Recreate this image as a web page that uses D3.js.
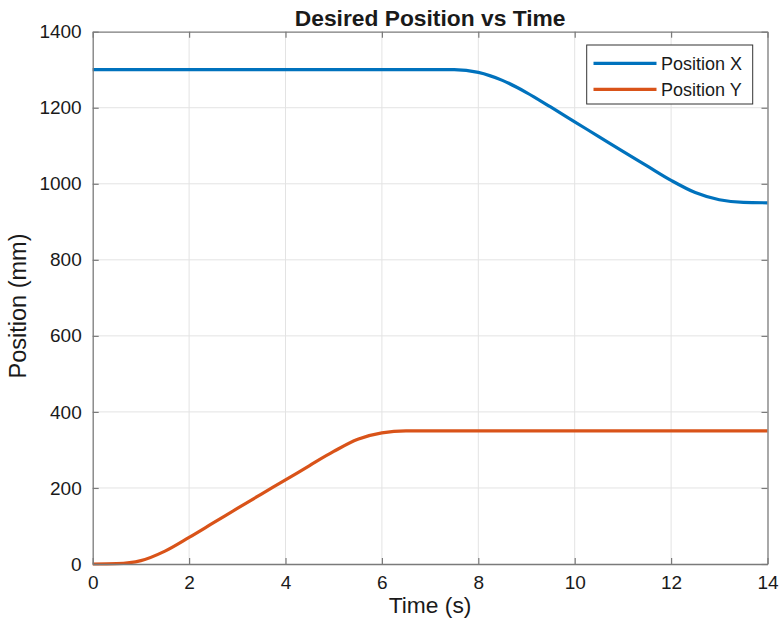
<!DOCTYPE html>
<html><head><meta charset="utf-8">
<script src="https://cdn.jsdelivr.net/npm/d3@7"></script>
<style>body{margin:0;background:#fff;} svg{display:block;font-family:"Liberation Sans",Arial,sans-serif;}</style>
</head><body>
<script>
const time      = [0,0.5,1,1.5,2,2.5,3,3.5,4,4.5,5,5.5,6,6.5,7,7.5,8,8.5,9,9.5,10,10.5,11,11.5,12,12.5,13,13.5,14];
const positionX = [1300,1300,1300,1300,1300,1300,1300,1300,1300,1300,1300,1300,1300,1300,1300,1300,1293,1272,1240,1202,1163,1124,1085,1047,1009,977,958,951,950];
const positionY = [0,1,9,34,70,108,146,184,221,259,296,328,345,350,350,350,350,350,350,350,350,350,350,350,350,350,350,350,350];
const seriesNames = ["Position X","Position Y"];
const xTicks = [0,2,4,6,8,10,12,14];
const yTicks = [0,200,400,600,800,1000,1200,1400];

const W=780,H=631, L=92.7, R=767.5, T=31.7, B=564;
const svg=d3.select("body").append("svg").attr("width",W).attr("height",H);
const x=d3.scaleLinear().domain([0,14]).range([L,R]);
const y=d3.scaleLinear().domain([0,1400]).range([B,T]);
const axisCol="#7a7a7a", txt="#1a1a1a";

// grid
svg.append("g").selectAll("line").data(xTicks.slice(1,-1)).join("line")
  .attr("x1",d=>x(d)).attr("x2",d=>x(d)).attr("y1",T).attr("y2",B)
  .attr("stroke","#e3e3e3").attr("stroke-width",1);
svg.append("g").selectAll("line").data(yTicks.slice(1,-1)).join("line")
  .attr("y1",d=>y(d)).attr("y2",d=>y(d)).attr("x1",L).attr("x2",R)
  .attr("stroke","#e3e3e3").attr("stroke-width",1);

// lines
const line=d3.line().curve(d3.curveMonotoneX);
const colors=["#0072BD","#D95319"];
[positionX,positionY].forEach((vals,i)=>{
  svg.append("path").attr("d",line(time.map((t,j)=>[x(t),y(vals[j])])))
    .attr("fill","none").attr("stroke",colors[i]).attr("stroke-width",3.2);
});

// axes
const fmt=d3.format("d");
const ax=d3.axisBottom(x).tickValues(xTicks).tickFormat(fmt).tickSize(-6).tickPadding(12).tickSizeOuter(0);
const gx=svg.append("g").attr("transform",`translate(0,${B})`).call(ax);
const gxt=svg.append("g").attr("transform",`translate(0,${T})`).call(d3.axisTop(x).tickValues(xTicks).tickSize(-6).tickFormat("").tickSizeOuter(0));
const ay=d3.axisLeft(y).tickValues(yTicks).tickFormat(fmt).tickSize(-6).tickPadding(11).tickSizeOuter(0);
const gy=svg.append("g").attr("transform",`translate(${L},0)`).call(ay);
const gyr=svg.append("g").attr("transform",`translate(${R},0)`).call(d3.axisRight(y).tickValues(yTicks).tickSize(-6).tickFormat("").tickSizeOuter(0));
[gx,gxt,gy,gyr].forEach(g=>{
  g.select(".domain").attr("stroke",axisCol).attr("stroke-width",1.3);
  g.selectAll(".tick line").attr("stroke",axisCol).attr("stroke-width",1.2);
  g.selectAll("text").attr("fill",txt).style("font-size","19px").style("font-family","'Liberation Sans',Arial,sans-serif");
});
gx.selectAll("text").attr("dy","0.71em");

// labels
svg.append("text").attr("x",(L+R)/2).attr("y",26).attr("text-anchor","middle")
  .style("font-size","22.8px").style("font-weight","bold").attr("fill",txt).text("Desired Position vs Time");
svg.append("text").attr("x",(L+R)/2).attr("y",613).attr("text-anchor","middle")
  .style("font-size","22.8px").attr("fill",txt).text("Time (s)");
svg.append("text").attr("transform",`translate(25.5,306) rotate(-90)`).attr("text-anchor","middle")
  .style("font-size","23.5px").attr("fill",txt).text("Position (mm)");

// legend
const lg=svg.append("g");
lg.append("rect").attr("x",586.7).attr("y",45).attr("width",166).attr("height",59)
  .attr("fill","#fff").attr("stroke","#333").attr("stroke-width",1);
seriesNames.forEach((n,i)=>{
  const yy=63.3+i*26;
  lg.append("line").attr("x1",593.5).attr("x2",656.5).attr("y1",yy).attr("y2",yy)
    .attr("stroke",colors[i]).attr("stroke-width",3.2);
  lg.append("text").attr("x",661).attr("y",yy).attr("dy","0.36em")
    .style("font-size","18px").attr("fill",txt).text(n);
});
</script>
</body></html>
